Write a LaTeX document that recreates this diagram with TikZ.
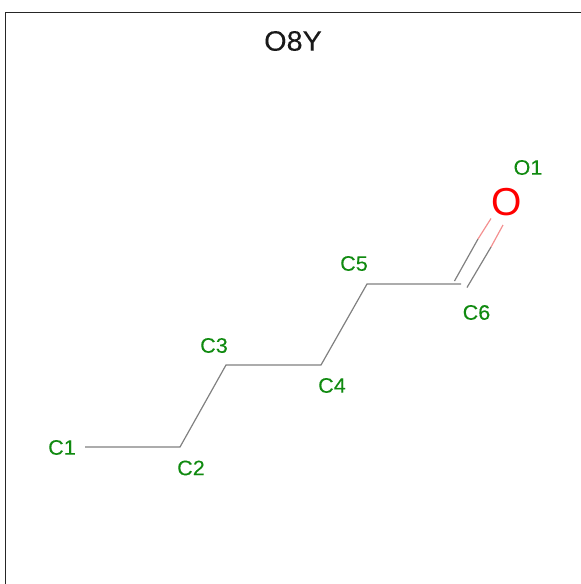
\documentclass[tikz,border=0pt]{standalone}
\usepackage{fontspec}
\setmainfont{Liberation Sans}
\newfontfamily\widefont[FakeStretch=1.03,FakeBold=0.1]{Liberation Sans}
\definecolor{atomgreen}{HTML}{108A10}
\definecolor{bondgray}{HTML}{808080}
\definecolor{bondred}{HTML}{F49090}
\tikzset{
  atomlabel/.style={text=atomgreen,font=\widefont\fontsize{21}{21}\selectfont,inner sep=0pt},
  bondline/.style={draw=bondgray,line width=1.2pt},
  redline/.style={draw=bondred,line width=1.2pt},
  framerule/.style={draw=black!85,line width=1.2pt},
}
\begin{document}
\begin{tikzpicture}[x=1pt,y=-1pt]
\useasboundingbox (0,0) rectangle (581,584);
\coordinate (tl) at (5.5,12.5);
\coordinate (bl) at (5.5,584);
\coordinate (tr) at (581,12.5);
\draw[framerule] (bl) -- (tl) -- (tr);
\node[inner sep=0pt,font=\widefont\fontsize{28}{28}\selectfont,text=black!90] (title) at (293,41) {O8Y};
\coordinate (a1) at (85,447);
\coordinate (a2) at (180,447);
\coordinate (a3) at (226,365);
\coordinate (a4) at (321,365);
\coordinate (a5) at (367,284);
\coordinate (a6) at (461,284);
\coordinate (d1s) at (454.5,281);
\coordinate (d1m) at (478,239);
\coordinate (d1e) at (491,218.5);
\coordinate (d2s) at (467,287.5);
\coordinate (d2m) at (491,247);
\coordinate (d2e) at (503,225);
\draw[bondline,line join=miter] (a1) -- (a2) -- (a3) -- (a4) -- (a5) -- (a6);
\draw[bondline] (d1s) -- (d1m);
\draw[redline] (d1m) -- (d1e);
\draw[bondline] (d2s) -- (d2m);
\draw[redline] (d2m) -- (d2e);
\node[atomlabel] (c1) at (62,447.5) {C1};
\node[atomlabel] (c2) at (191,468) {C2};
\node[atomlabel] (c3) at (214,345.5) {C3};
\node[atomlabel] (c4) at (332,385.5) {C4};
\node[atomlabel] (c5) at (354,263.5) {C5};
\node[atomlabel] (c6) at (476.5,312.5) {C6};
\node[atomlabel] (o1) at (528,167.5) {O1};
\node[inner sep=0pt,text=red,font=\fontsize{39}{39}\selectfont] (o) at (507,202.5) {O};
\end{tikzpicture}
\end{document}
